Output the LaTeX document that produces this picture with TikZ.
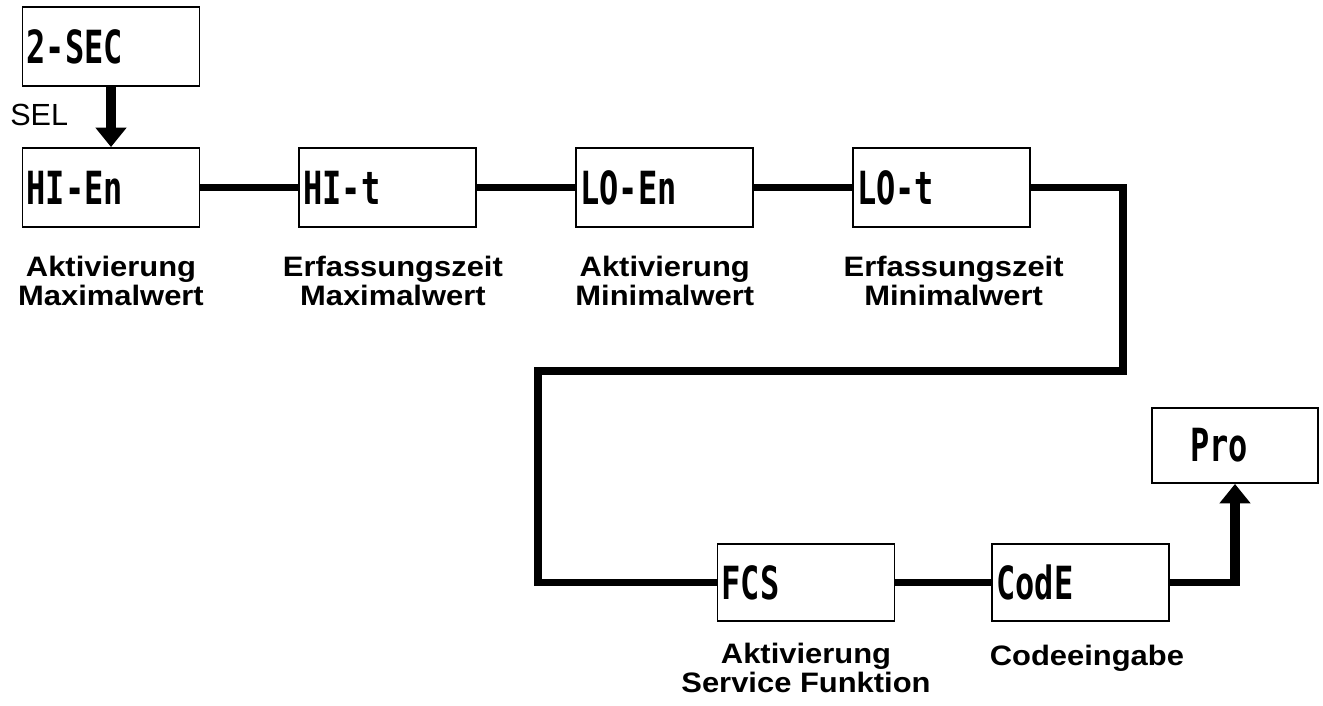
\documentclass[tikz,border=0pt]{standalone}
\usepackage{fontspec}
\setmainfont{Liberation Sans}
\newfontfamily\descrfont{Liberation Sans}[FakeStretch=1.1]
\newfontfamily\dispfont{DejaVu Sans Mono}[FakeStretch=0.7]
\usetikzlibrary{chains,positioning,arrows.meta}

\begin{document}
\begin{tikzpicture}[x=0.02cm,y=-0.02cm]
\tikzstyle{disp}=[draw,line width=1.1pt,minimum height=1.58cm,text width=3.38cm,inner xsep=0.08cm,align=left,font=\dispfont\bfseries\fontsize{26}{28}\selectfont]
\tikzstyle{descr}=[inner sep=0pt,align=center,font=\descrfont\bfseries\fontsize{16}{16.5}\selectfont]
\tikzstyle{wire}=[line width=4.2pt]
\tikzstyle{bigarrow}=[line width=5.8pt,-{Triangle[width=17pt,length=11pt]}]
\useasboundingbox (0,0) rectangle (1323,706);
\begin{scope}[start chain=1 going right,node distance=1.96cm,shift={(111,187.5)}]
    \node [on chain=1,disp] (hien) {HI-En};
    \node [on chain=1,disp] (hit) {HI-t};
    \node [on chain=1,disp] (loen) {LO-En};
    \node [on chain=1,disp] (lot) {LO-t};
    \node [disp,above=1.2cm of hien] (sec) {2-SEC};
    \node [descr,below=0.56cm of hien] (hienlbl) {Aktivierung\\Maximalwert};
    \node [descr,below=0.56cm of hit,xshift=0.1cm] (hitlbl) {Erfassungszeit\\Maximalwert};
    \node [descr,below=0.56cm of loen] (loenlbl) {Aktivierung\\Minimalwert};
    \node [descr,below=0.56cm of lot,xshift=0.24cm] (lotlbl) {Erfassungszeit\\Minimalwert};
\end{scope}
\begin{scope}[start chain=2 going right,node distance=1.92cm,shift={(806,582.5)}]
    \node [on chain=2,disp,minimum height=1.54cm] (fcs) {FCS};
    \node [on chain=2,disp,minimum height=1.54cm] (code) {CodE};
    \node [descr,below=0.42cm of fcs] (fcslbl) {Aktivierung\\Service Funktion};
    \node [descr,below=0.46cm of code,xshift=0.12cm] (codelbl) {Codeeingabe};
\end{scope}
\node [disp,text width=1.8cm,inner xsep=0.76cm,minimum height=1.5cm] (pro) at (1235,445.5) {Pro};
\node [font=\fontsize{17.4}{20}\selectfont,anchor=base west,inner sep=0pt] (sel) at (10,126) {SEL};

\coordinate (turnA) at (1123,371);
\coordinate (turnB) at (538,371);
\coordinate (bend) at (pro.south |- code.east);

\draw[bigarrow] (sec) -- (hien);
\draw[wire] (hien) -- (hit);
\draw[wire] (hit) -- (loen);
\draw[wire] (loen) -- (lot);
\draw[wire] (lot.east) -| (turnA) -| (turnB |- fcs.west) -- (fcs.west);
\draw[wire] (fcs) -- (code);
\draw[wire] (code.east) -- (bend);
\draw[bigarrow] ([yshift=-2.1pt]bend) -- (pro.south);
\end{tikzpicture}
\end{document}
